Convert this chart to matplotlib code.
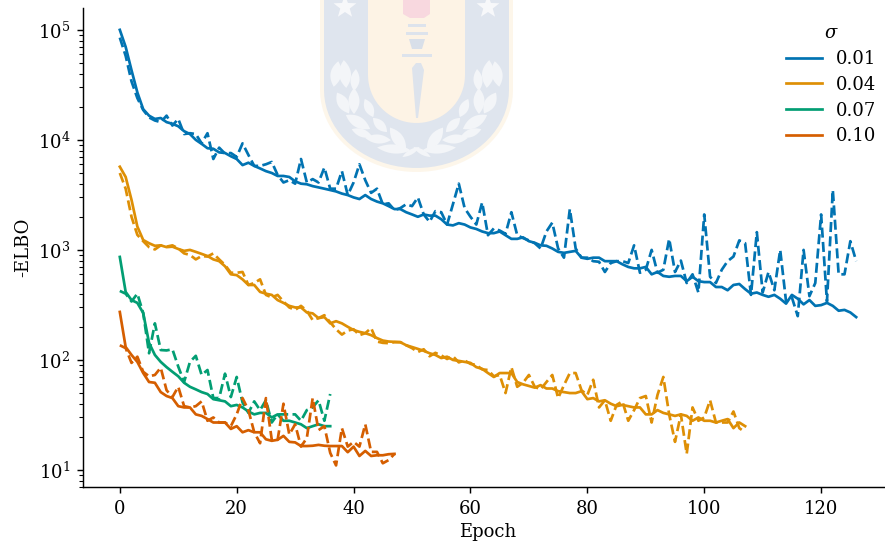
import numpy as np
import matplotlib
matplotlib.use('Agg')
import matplotlib.pyplot as plt
from matplotlib.patches import Polygon, Rectangle

# -ELBO per epoch, solid = train, dashed = test
sigma_labels = ['0.01', '0.04', '0.07', '0.10']
colors = ['#0173b2', '#de8f05', '#029e73', '#d55e00']

train_001 = [100000, 70000, 43000, 27000, 19000, 16600, 15500, 15800, 14500, 14000, 13300, 12000, 11300, 10000, 9200, 8400, 8300, 7700, 7600, 7100,
             6700, 5900, 6200, 5800, 5500, 5200, 5000, 4700, 4700, 4600, 4200, 4000, 3950, 3800, 3700, 3600, 3500, 3400, 3250, 3150,
             3000, 2900, 3150, 2900, 2750, 2650, 2500, 2350, 2350, 2200, 2100, 2000, 2100, 2050, 2050, 1900, 1700, 1670, 1750, 1700,
             1600, 1550, 1470, 1420, 1420, 1470, 1360, 1260, 1260, 1300, 1200, 1160, 1100, 1090, 1030, 960, 940, 960, 980, 850,
             830, 850, 850, 790, 790, 790, 740, 700, 680, 680, 700, 600, 630, 580, 570, 580, 580, 520, 570, 520,
             510, 510, 460, 460, 430, 480, 490, 440, 400, 410, 390, 375, 390, 360, 325, 390, 360, 320, 350, 310,
             315, 330, 310, 280, 285, 270, 245]
test_001 = [85000, 58000, 34000, 24000, 18700, 16000, 15000, 14500, 16600, 13500, 15500, 11300, 11500, 11300, 9300, 11500, 6700, 8500, 7500, 7600,
            7000, 9300, 7300, 5800, 5800, 6000, 6300, 4800, 4100, 4300, 4000, 6700, 4100, 4400, 4100, 5600, 3600, 3600, 5200, 3150,
            4100, 6000, 4300, 3300, 3600, 2600, 2650, 2300, 2400, 2600, 2500, 3000, 2100, 1800, 2250, 2200, 1700, 2600, 4000, 2400,
            2000, 1700, 2700, 1360, 1570, 1500, 1400, 2200, 1360, 1280, 1220, 1150, 1030, 1470, 1770, 1030, 850, 2350, 1030, 850,
            850, 790, 780, 630, 760, 790, 790, 760, 1100, 620, 660, 1000, 620, 660, 1260, 630, 800, 500, 600, 410,
            2100, 570, 500, 660, 790, 870, 1220, 1150, 390, 1450, 410, 630, 430, 1000, 340, 370, 250, 1000, 380, 500,
            2100, 340, 3500, 600, 600, 1200, 790]

train_004 = [5700, 4600, 2850, 1630, 1230, 1150, 1090, 1100, 1060, 1070, 1020, 980, 1000, 960, 920, 880, 820, 790, 710, 600,
             590, 540, 480, 480, 415, 400, 390, 350, 330, 310, 300, 300, 270, 265, 240, 245, 215, 225, 215, 200,
             187, 180, 175, 168, 158, 150, 147, 146, 145, 136, 131, 126, 121, 115, 111, 104, 107, 100, 98, 96,
             94, 86, 83, 76, 70, 76, 76, 76, 63, 60, 58, 56, 59, 55, 55, 52, 51, 50, 50, 52,
             44, 45, 42, 43, 40, 38, 39, 38, 37, 37, 32, 32, 35, 33, 32, 31, 32, 31, 28, 30,
             28, 28, 27, 28, 29, 24, 27, 25]
test_004 = [5000, 3600, 2000, 1370, 1200, 1060, 1010, 1100, 1070, 1100, 1030, 930, 900, 820, 880, 870, 930, 820, 730, 620,
            620, 630, 480, 500, 540, 390, 370, 390, 340, 300, 285, 310, 280, 230, 240, 255, 220, 190, 170, 185,
            190, 168, 175, 195, 147, 143, 142, 145, 145, 136, 128, 118, 125, 108, 116, 110, 102, 108, 95, 99,
            92, 90, 82, 81, 71, 73, 50, 86, 57, 62, 73, 57, 54, 63, 73, 45, 59, 76, 76, 53,
            48, 66, 37, 43, 28, 39, 42, 28, 35, 45, 47, 27, 48, 70, 32, 18, 32, 14, 37, 28,
            30, 43, 27, 27, 27, 34, 24, 22]

train_007 = [863, 415, 350, 330, 267, 143, 111, 96, 86, 78, 71, 62, 57, 54, 51, 49, 44, 43, 42, 38,
             39, 37, 34, 32, 33, 33, 30, 32, 28, 28, 27, 26, 24, 25, 26, 25, 25]
test_007 = [424, 400, 340, 400, 267, 115, 215, 123, 122, 125, 87, 63, 96, 109, 73, 81, 45, 45, 75, 46,
            70, 41, 33, 42, 35, 43, 27, 32, 32, 32, 32, 28, 35, 37, 43, 28, 49]

train_010 = [273, 131, 111, 96, 76, 63, 62, 51, 47, 45, 38, 37, 37, 32, 31, 29, 27, 27, 27, 23.6,
             25, 22, 23, 22, 22, 19, 18.4, 18.8, 20.4, 18, 17.8, 16.5, 16.5, 16.6, 16.9, 16.6, 16.5, 16.5, 16.5, 14.5,
             16.3, 13.4, 14.9, 13.4, 13.6, 13.6, 13.9, 14]
test_010 = [136, 128, 94, 107, 78, 71, 73, 85, 53, 46, 57, 38, 37, 38, 42, 28, 30, 27, 27, 25,
            32, 45, 35, 22, 17.5, 45, 18.8, 18.8, 40, 21, 26, 16.3, 19.5, 45, 23, 25, 14.3, 11, 24, 16.3,
            18, 16.3, 26, 14.6, 14.6, 11.5, 12.3, 14]

train_curves = [train_001, train_004, train_007, train_010]
test_curves = [test_001, test_004, test_007, test_010]


def leaf(bg, cx, cy, length, width, ang):
    # pointed leaf, angle in degrees from horizontal
    s = np.linspace(-1, 1, 15)
    x = np.r_[s, s[::-1]]*length/2
    y = np.r_[(1 - s**2), -(1 - s[::-1]**2)]*width/2
    a = np.radians(ang)
    px = cx + x*np.cos(a) - y*np.sin(a)
    py = cy + x*np.sin(a) + y*np.cos(a)
    bg.add_patch(Polygon(list(zip(px, py)), fc='#f3f5f8', ec='none'))


def draw_crest(bg):
    # faded university crest behind the plot, in pixel coordinates
    t = np.linspace(np.pi, 0, 40)
    outer = [(320, -5)] + list(zip(416.5 + 96.5*np.cos(t), 90 + 82*np.sin(t))) + [(513, -5)]
    shield = [(324, -5)] + list(zip(416.5 + 92.5*np.cos(t), 90 + 78*np.sin(t))) + [(509, -5)]
    inner = [(368, -5)] + list(zip(416.5 + 48.5*np.cos(t), 75 + 48*np.sin(t))) + [(465, -5)]
    bg.add_patch(Polygon(outer, fc='#fdf6ea', ec='none'))
    bg.add_patch(Polygon(shield, fc='#dfe5ee', ec='none'))
    bg.add_patch(Polygon(inner, fc='#fdf3e5', ec='none'))
    bg.add_patch(Polygon([(403, -2), (403, 14), (410, 18), (424, 18), (430, 14), (430, -2)], fc='#f8d8df', ec='none'))
    for y, x0, x1 in [(25, 408, 426), (33, 406, 428), (55, 402, 432)]:
        bg.add_patch(Rectangle((x0, y - 1.5), x1 - x0, 3, fc='#dde3ec', ec='none'))
    bg.add_patch(Polygon([(409, 39), (425, 39), (422, 49), (412, 49)], fc='#d8dfe9', ec='none'))
    bg.add_patch(Polygon([(412, 68), (416, 63), (421, 63), (424, 70), (418, 118), (416, 118)], fc='#dde3ec', ec='none'))
    for x in [345, 488]:
        a = np.arange(10)*np.pi/5 - np.pi/2
        r = np.where(np.arange(10) % 2 == 0, 12, 5)
        bg.add_patch(Polygon(list(zip(x + r*np.cos(a), 7 + r*np.sin(a))), fc='#f7f8fa', ec='none'))
    # laurel leaves for the left side, mirrored for the right
    leaves = [(336, 74, 26, 11, -80), (345, 74, 28, 12, -95), (355, 80, 22, 9, -85), (343, 103, 24, 11, -120),
              (354, 101, 26, 11, -90), (369, 108, 20, 9, -115), (358, 122, 28, 11, -150), (380, 125, 20, 9, -135),
              (362, 133, 22, 8, -160), (378, 139, 26, 9, -175), (398, 139, 28, 11, -125), (394, 149, 34, 9, -175),
              (411, 152, 20, 5, 150)]
    for cx, cy, length, width, ang in leaves:
        leaf(bg, cx, cy, length, width, ang)
        leaf(bg, 833 - cx, cy, length, width, 180 - ang)


plt.rcParams['font.family'] = 'DejaVu Serif'
plt.rcParams['mathtext.fontset'] = 'dejavuserif'

dpi = 130
fig = plt.figure(figsize=(885/dpi, 545/dpi), dpi=dpi)

bg = fig.add_axes([0, 0, 1, 1], zorder=0)
bg.set_xlim(0, 885)
bg.set_ylim(545, 0)
bg.axis('off')
draw_crest(bg)

# the right end of the axes runs past the picture edge
ax = fig.add_axes([83/885, (545 - 487)/545, (893 - 83)/885, (487 - 8)/545], zorder=1)
ax.patch.set_alpha(0)

for train, test, col, lab in zip(train_curves, test_curves, colors, sigma_labels):
    ax.plot(np.arange(len(train)), train, color=col, lw=1.5, label=lab)
    ax.plot(np.arange(len(test)), test, color=col, lw=1.5, ls='--')

ax.set_yscale('log')
ax.set_xlim(-6.3, 132.3)
ax.set_ylim(7, 158000)
ax.set_xlabel('Epoch', labelpad=3)
ax.set_ylabel('-ELBO', labelpad=3)
ax.spines['top'].set_visible(False)
ax.spines['right'].set_visible(False)
ax.legend(title=r'$\sigma$', frameon=False, loc='upper right', bbox_to_anchor=(1.0, 1.0), labelspacing=0.43)

fig.savefig('out.png', dpi=dpi)
